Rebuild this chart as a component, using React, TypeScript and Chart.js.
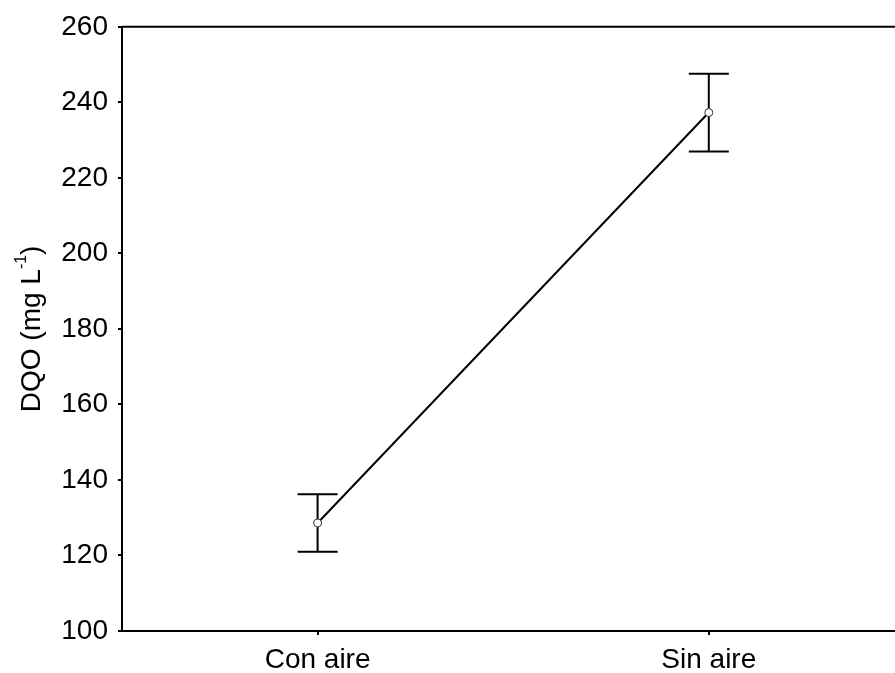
import React, { useEffect, useRef } from "react";
import { Chart, registerables } from "chart.js";

Chart.register(...registerables);

// DQO by aeration condition: mean with error bar
const categories = ["Con aire", "Sin aire"];
const dqoMeans = [128.6, 237.3];
const dqoErrors = [7.6, 10.3];

// Y axis range and step
const yMin = 100;
const yMax = 260;
const yStep = 20;

const FONT = "'Liberation Sans', Arial, Helvetica, sans-serif";

const errorBarsPlugin = {
  id: "errorBars",
  beforeDatasetsDraw(chart: any) {
    const { ctx, scales } = chart;
    const xs = scales.x;
    const ys = scales.y;
    ctx.save();
    ctx.strokeStyle = "#000";
    ctx.lineWidth = 2;
    const cap = 20;
    dqoMeans.forEach((m, i) => {
      const x = xs.getPixelForValue(i + 1);
      const yTop = ys.getPixelForValue(m + dqoErrors[i]);
      const yBot = ys.getPixelForValue(m - dqoErrors[i]);
      ctx.beginPath();
      ctx.moveTo(x, yTop);
      ctx.lineTo(x, yBot);
      ctx.moveTo(x - cap, yTop);
      ctx.lineTo(x + cap, yTop);
      ctx.moveTo(x - cap, yBot);
      ctx.lineTo(x + cap, yBot);
      ctx.stroke();
    });
    ctx.restore();
  },
};

const frameAndTitlePlugin = {
  id: "frameAndTitle",
  afterDraw(chart: any) {
    const { ctx, chartArea } = chart;
    ctx.save();
    // top frame line
    ctx.strokeStyle = "#000";
    ctx.lineWidth = 2;
    ctx.beginPath();
    ctx.moveTo(chartArea.left, chartArea.top);
    ctx.lineTo(chartArea.right, chartArea.top);
    ctx.stroke();

    // rotated y axis title with superscript
    const main = "DQO (mg L";
    const sup = "-1";
    const tail = ")";
    const mainFont = `28px ${FONT}`;
    const supFont = `16px ${FONT}`;
    ctx.font = mainFont;
    const wMain = ctx.measureText(main).width;
    const wTail = ctx.measureText(tail).width;
    ctx.font = supFont;
    const wSup = ctx.measureText(sup).width;
    const total = wMain + wSup + wTail;
    const cy = (chartArea.top + chartArea.bottom) / 2;
    ctx.translate(40, cy);
    ctx.rotate(-Math.PI / 2);
    ctx.fillStyle = "#000";
    ctx.textBaseline = "alphabetic";
    ctx.textAlign = "left";
    let x = -total / 2;
    ctx.font = mainFont;
    ctx.fillText(main, x, 0);
    x += wMain;
    ctx.font = supFont;
    ctx.fillText(sup, x, -14);
    x += wSup;
    ctx.font = mainFont;
    ctx.fillText(tail, x, 0);
    ctx.restore();
  },
};

export default function App() {
  const canvasRef = useRef<HTMLCanvasElement | null>(null);

  useEffect(() => {
    if (!canvasRef.current) return;
    const chart = new Chart(canvasRef.current, {
      type: "line",
      data: {
        datasets: [
          {
            data: dqoMeans.map((v, i) => ({ x: i + 1, y: v })),
            borderColor: "#000",
            borderWidth: 2,
            pointRadius: 4,
            pointBackgroundColor: "#fff",
            pointBorderColor: "#333",
            pointBorderWidth: 1,
            tension: 0,
            fill: false,
          },
        ],
      },
      options: {
        responsive: false,
        animation: false,
        layout: { autoPadding: false, padding: { left: 0, top: 25, right: 0, bottom: 0 } },
        plugins: {
          legend: { display: false },
          tooltip: { enabled: false },
        },
        scales: {
          x: {
            type: "linear",
            min: 0.5,
            max: 2.476,
            afterBuildTicks: (scale: any) => {
              scale.ticks = categories.map((_, i) => ({ value: i + 1 }));
            },
            afterFit: (scale: any) => {
              scale.height = 42;
            },
            ticks: {
              callback: (v: any) => categories[Number(v) - 1] ?? "",
              color: "#000",
              font: { family: FONT, size: 28 },
              padding: 8,
              maxRotation: 0,
              autoSkip: false,
            },
            grid: {
              drawOnChartArea: false,
              drawTicks: true,
              tickLength: 4,
              color: "#000",
              lineWidth: 2,
            },
            border: { display: true, color: "#000", width: 2 },
          },
          y: {
            type: "linear",
            min: yMin,
            max: yMax,
            afterFit: (scale: any) => {
              scale.width = 122;
            },
            ticks: {
              stepSize: yStep,
              color: "#000",
              font: { family: FONT, size: 28 },
              padding: 10,
            },
            grid: {
              drawOnChartArea: false,
              drawTicks: true,
              tickLength: 4,
              color: "#000",
              lineWidth: 2,
            },
            border: { display: true, color: "#000", width: 2 },
          },
        },
      },
      plugins: [errorBarsPlugin, frameAndTitlePlugin],
    });
    return () => chart.destroy();
  }, []);

  return (
    <div style={{ position: "absolute", left: 0, top: 0, width: 895, height: 673, background: "#fff", overflow: "hidden" }}>
      <canvas ref={canvasRef} width={895} height={673} style={{ display: "block" }} />
    </div>
  );
}
